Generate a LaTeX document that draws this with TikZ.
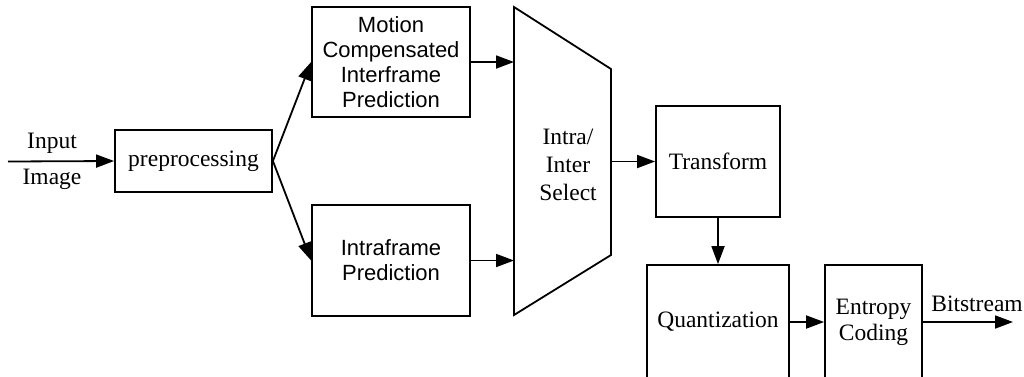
\documentclass[tikz,border=0pt]{standalone}
\usepackage{fontspec}
\setmainfont{Liberation Serif}
\setsansfont{Liberation Sans}
\usetikzlibrary{arrows.meta}
\begin{document}
\begin{tikzpicture}[x=1pt,y=-1pt,
  line width=1.8pt,
  blk/.style={draw, inner sep=0pt, align=center},
  serif/.style={font=\fontsize{23.5}{26}\selectfont},
  sans/.style={font=\sffamily\fontsize{22}{25}\selectfont},
  arr/.style={-{Triangle[length=18pt,width=13pt]}}]
\useasboundingbox (0,0) rectangle (1024,376);
\clip (0,0) rectangle (1024,376);

% processing blocks
\node[blk, serif, minimum width=157pt, minimum height=62pt] (pre) at (193.5,161) {preprocessing};
\node[blk, sans, minimum width=158pt, minimum height=110pt] (mc) at (391,62) {Motion\\Compensated\\Interframe\\Prediction};
\node[blk, sans, minimum width=158pt, minimum height=111pt] (ip) at (391,260.5) {Intraframe\\Prediction};
\node[blk, serif, minimum width=124pt, minimum height=111pt] (tf) at (718,161.5) {Transform};
\node[blk, serif, minimum width=142pt, minimum height=114pt] (qz) at (718,322) {Quantization};
\node[blk, serif, minimum width=97pt, minimum height=114pt] (ec) at (873.5,322) {Entropy\\Coding};

% intra/inter selector (trapezoid)
\coordinate (stl) at (514,7);
\coordinate (sbl) at (514,315);
\coordinate (str) at (611,69);
\coordinate (sbr) at (611,255);
\coordinate (sout) at (611,161.5);
\draw (stl) -- (str) -- (sbr) -- (sbl) -- cycle;
\node[align=center, font=\fontsize{23.5}{28}\selectfont] (sel) at (568,165) {Intra/\\Inter\\Select};

% input and output
\coordinate (in) at (8,161.5);
\coordinate (out) at (1013,322);
\node[serif] (lin) at (52,143) {Input};
\node[serif] (lim) at (52,179) {Image};
\node[serif, anchor=south] (lbs) at (977,316) {Bitstream};

% connectors
\draw[arr] (in) -- (pre.west);
\draw[arr] (pre.east) -- (mc.west);
\draw[arr] (pre.east) -- (ip.west);
\draw[arr] (mc.east) -- (mc.east -| stl);
\draw[arr] (ip.east) -- (ip.east -| sbl);
\draw[arr] (sout) -- (tf.west);
\draw[arr] (tf.south) -- (qz.north);
\draw[arr] (qz.east) -- (ec.west);
\draw[arr] (ec.east) -- (out);
\end{tikzpicture}
\end{document}
